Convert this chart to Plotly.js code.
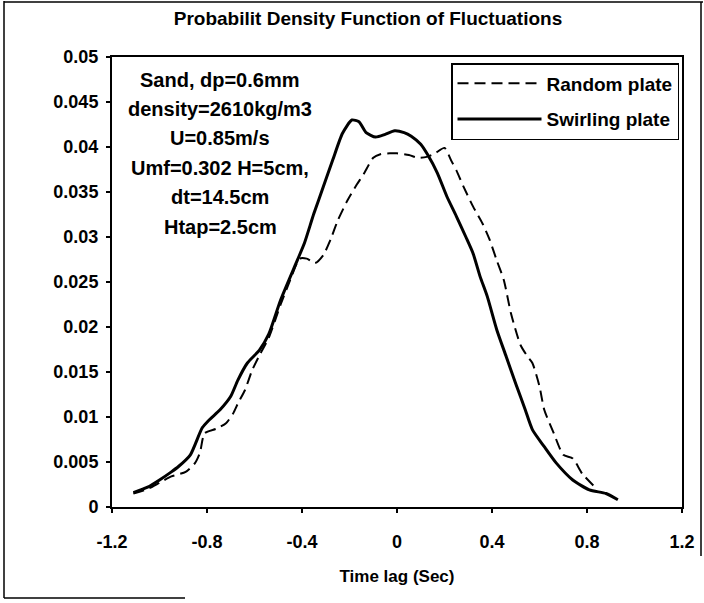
<!DOCTYPE html>
<html>
<head>
<meta charset="utf-8">
<script src="https://cdn.plot.ly/plotly-3.0.1.min.js"></script>
<style>html,body{margin:0;padding:0;background:#fff;}#chart{width:704px;height:603px;}</style>
</head>
<body>
<div id="chart"></div>
<script>
// Swirling plate (solid)
const swirlX = [-1.11, -1.05, -1.0, -0.95, -0.92, -0.87, -0.82, -0.79, -0.745, -0.70, -0.67, -0.63, -0.58, -0.54, -0.49, -0.42, -0.39, -0.35, -0.31, -0.27, -0.23, -0.19, -0.16, -0.13, -0.09, -0.05, -0.01, 0.03, 0.06, 0.10, 0.13, 0.17, 0.21, 0.25, 0.29, 0.32, 0.35, 0.38, 0.42, 0.46, 0.50, 0.54, 0.57, 0.62, 0.67, 0.74, 0.81, 0.88, 0.93];
const swirlY = [0.0016, 0.0022, 0.0030, 0.0039, 0.0045, 0.0058, 0.0088, 0.0097, 0.0108, 0.0123, 0.0141, 0.0160, 0.0174, 0.0192, 0.0230, 0.0274, 0.0293, 0.0326, 0.0356, 0.0386, 0.0415, 0.0430, 0.0428, 0.0416, 0.0411, 0.0414, 0.0418, 0.0416, 0.0412, 0.0403, 0.0391, 0.0371, 0.0345, 0.0323, 0.0300, 0.0282, 0.0256, 0.0234, 0.0197, 0.0167, 0.0137, 0.0108, 0.0086, 0.0067, 0.0049, 0.0030, 0.0019, 0.0015, 0.0008];
// Random plate (dashed)
const randX = [-1.11, -1.05, -1.0, -0.95, -0.89, -0.85, -0.83, -0.81, -0.76, -0.72, -0.69, -0.67, -0.64, -0.61, -0.58, -0.54, -0.49, -0.45, -0.41, -0.38, -0.345, -0.31, -0.28, -0.25, -0.21, -0.17, -0.14, -0.10, -0.07, -0.03, 0.0, 0.05, 0.09, 0.125, 0.16, 0.20, 0.23, 0.25, 0.28, 0.32, 0.36, 0.39, 0.42, 0.45, 0.48, 0.52, 0.55, 0.57, 0.60, 0.62, 0.66, 0.70, 0.74, 0.78, 0.83];
const randY = [0.0015, 0.0020, 0.0027, 0.0034, 0.0039, 0.0049, 0.0060, 0.0082, 0.0087, 0.0093, 0.0104, 0.0115, 0.0130, 0.0152, 0.0168, 0.0188, 0.0225, 0.0252, 0.0276, 0.0276, 0.0271, 0.0280, 0.0297, 0.0318, 0.0340, 0.0358, 0.0370, 0.0388, 0.0392, 0.0393, 0.0393, 0.0391, 0.0388, 0.0389, 0.0393, 0.0399, 0.0384, 0.0374, 0.0356, 0.0334, 0.0315, 0.0297, 0.0274, 0.0252, 0.0215, 0.0180, 0.0167, 0.0160, 0.0134, 0.0108, 0.0082, 0.0058, 0.0054, 0.0037, 0.0023];

const xTickVals = [-1.2, -0.8, -0.4, 0, 0.4, 0.8, 1.2];
const xTickText = ["-1.2", "-0.8", "-0.4", "0", "0.4", "0.8", "1.2"];
const yTickVals = [0, 0.005, 0.01, 0.015, 0.02, 0.025, 0.03, 0.035, 0.04, 0.045, 0.05];
const yTickText = ["0", "0.005", "0.01", "0.015", "0.02", "0.025", "0.03", "0.035", "0.04", "0.045", "0.05"];
const seriesNames = ["Random plate", "Swirling plate"];
const infoLines = ["Sand, dp=0.6mm", "density=2610kg/m3", "U=0.85m/s", "Umf=0.302 H=5cm,", "dt=14.5cm", "Htap=2.5cm"];

const FONT = "Liberation Sans, Arial, sans-serif";
const W = 704, H = 603;
const mL = 112, mR = 22, mT = 57, mB = 96;
const pw = W - mL - mR, ph = H - mT - mB;
const px = p => (p - mL) / pw;
const py = q => (H - mB - q) / ph;
const bold = (size) => ({family: FONT, size: size, color: '#000', weight: 'bold'});

const traces = [
  {x: randX, y: randY, mode: 'lines', name: seriesNames[0], legendgroup: 'a',
   line: {color: '#000', width: 2, dash: '11px,6px', shape: 'spline', smoothing: 0.6}},
  {x: swirlX, y: swirlY, mode: 'lines', name: seriesNames[1], legendgroup: 'b',
   line: {color: '#000', width: 3, shape: 'spline', smoothing: 0.6}}
];

const lineYs = [80, 109, 138, 168, 197, 227];
const annotations = infoLines.map((t, i) => ({
  text: t, xref: 'paper', yref: 'paper', x: px(220), y: py(lineYs[i]),
  xanchor: 'center', yanchor: 'middle', showarrow: false,
  font: bold(20)
}));

const shapes = [
  {type: 'line', xref: 'paper', yref: 'paper', x0: px(4), x1: px(4), y0: py(1), y1: py(598), line: {color: '#000', width: 1.5}},
  {type: 'line', xref: 'paper', yref: 'paper', x0: px(4), x1: px(185), y0: py(598), y1: py(598), line: {color: '#000', width: 1.5}},
  {type: 'line', xref: 'paper', yref: 'paper', x0: px(4), x1: px(703), y0: py(2), y1: py(2), line: {color: '#000', width: 1.5}},
  {type: 'line', xref: 'paper', yref: 'paper', x0: px(701), x1: px(701), y0: py(2), y1: py(556), line: {color: '#000', width: 1.5}}
];

const layout = {
  width: W, height: H,
  margin: {l: mL, r: mR, t: mT, b: mB, pad: 0},
  paper_bgcolor: '#fff', plot_bgcolor: '#fff',
  font: {family: FONT, color: '#000', size: 17},
  title: {text: 'Probabilit Density Function of Fluctuations', x: 368 / W, xanchor: 'center', y: 1 - 18 / H, yanchor: 'middle',
          font: bold(19)},
  xaxis: {range: [-1.2, 1.2], tickvals: xTickVals, ticktext: xTickText, ticks: 'outside', ticklen: 4, tickwidth: 1.5,
          tickcolor: '#000', showline: true, linecolor: '#000', linewidth: 2, mirror: true, showgrid: false, zeroline: false,
          tickfont: bold(18), ticklabelstandoff: 13,
          title: {text: 'Time lag (Sec)', standoff: 20, font: bold(17)}},
  yaxis: {range: [0, 0.05], tickvals: yTickVals, ticktext: yTickText, ticks: 'outside', ticklen: 4, tickwidth: 1.5,
          tickcolor: '#000', showline: true, linecolor: '#000', linewidth: 2, mirror: true, showgrid: false, zeroline: false,
          tickfont: bold(18), ticklabelstandoff: 4},
  showlegend: true,
  legend: {x: px(679), xanchor: 'right', y: py(63), yanchor: 'top', bgcolor: '#fff', bordercolor: '#000', borderwidth: 1.5,
           font: bold(19), traceorder: 'grouped', tracegroupgap: 8, itemwidth: 84},
  annotations: annotations,
  shapes: shapes
};

Plotly.newPlot('chart', traces, layout, {displayModeBar: false, staticPlot: true});
</script>
</body>
</html>
